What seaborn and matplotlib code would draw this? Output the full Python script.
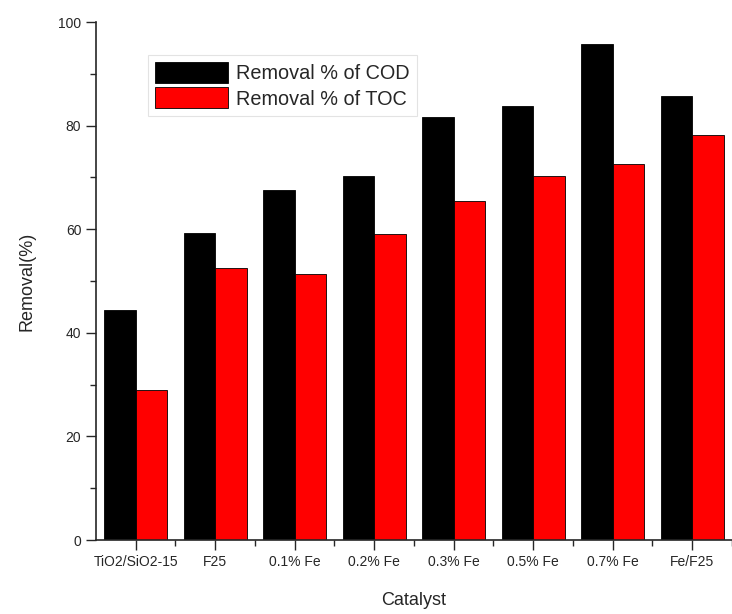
import matplotlib
matplotlib.use("Agg")
import matplotlib.pyplot as plt
import seaborn as sns
import pandas as pd
from matplotlib.ticker import MultipleLocator

catalysts = ["TiO2/SiO2-15", "F25", "0.1% Fe", "0.2% Fe", "0.3% Fe", "0.5% Fe", "0.7% Fe", "Fe/F25"]
cod_removal = [44.5, 59.3, 67.6, 70.3, 81.7, 83.8, 95.8, 85.7]
toc_removal = [29.0, 52.5, 51.4, 59.1, 65.4, 70.3, 72.6, 78.2]
series_names = ["Removal % of COD", "Removal % of TOC"]

df = pd.DataFrame({
    "Catalyst": catalysts * 2,
    "Removal": cod_removal + toc_removal,
    "Series": [series_names[0]] * len(catalysts) + [series_names[1]] * len(catalysts),
})

sns.set_style("ticks")
plt.rcParams["font.family"] = ["Liberation Sans", "DejaVu Sans"]

fig = plt.figure(figsize=(7.32, 6.14), dpi=100)
ax = fig.add_axes([0.131, 0.1205, 0.869, 0.8435])

sns.barplot(data=df, x="Catalyst", y="Removal", hue="Series",
            palette=["#000000", "#ff0000"], width=0.79,
            edgecolor="black", linewidth=0.6, ax=ax, saturation=1)

ax.set_ylim(0, 100)
ax.set_xlim(-0.5, 7.32)
ax.yaxis.set_major_locator(MultipleLocator(20))
ax.yaxis.set_minor_locator(MultipleLocator(10))
ax.set_xticks(range(len(catalysts)))
ax.set_xticks([i + 0.5 for i in range(len(catalysts))], minor=True)
ax.tick_params(axis="both", which="major", length=7, width=1, labelsize=10, direction="out")
ax.tick_params(axis="both", which="minor", length=4, width=1, direction="out")
ax.set_xticklabels(catalysts)

for s in ["top", "right"]:
    ax.spines[s].set_visible(False)
ax.spines["left"].set_linewidth(1.2)
ax.spines["bottom"].set_linewidth(1.2)

ax.set_xlabel("Catalyst", fontsize=13, labelpad=17)
ax.set_ylabel("Removal(%)", fontsize=13, labelpad=16)

leg = ax.legend(loc="upper left", bbox_to_anchor=(0.066, 0.955), fontsize=14.3,
                frameon=True, fancybox=False, handlelength=3.7, handleheight=1.25,
                borderpad=0.35, labelspacing=0.2, handletextpad=0.4)
leg.get_frame().set_edgecolor("#dddddd")
leg.get_frame().set_linewidth(0.8)

fig.savefig("out.png", dpi=100)
